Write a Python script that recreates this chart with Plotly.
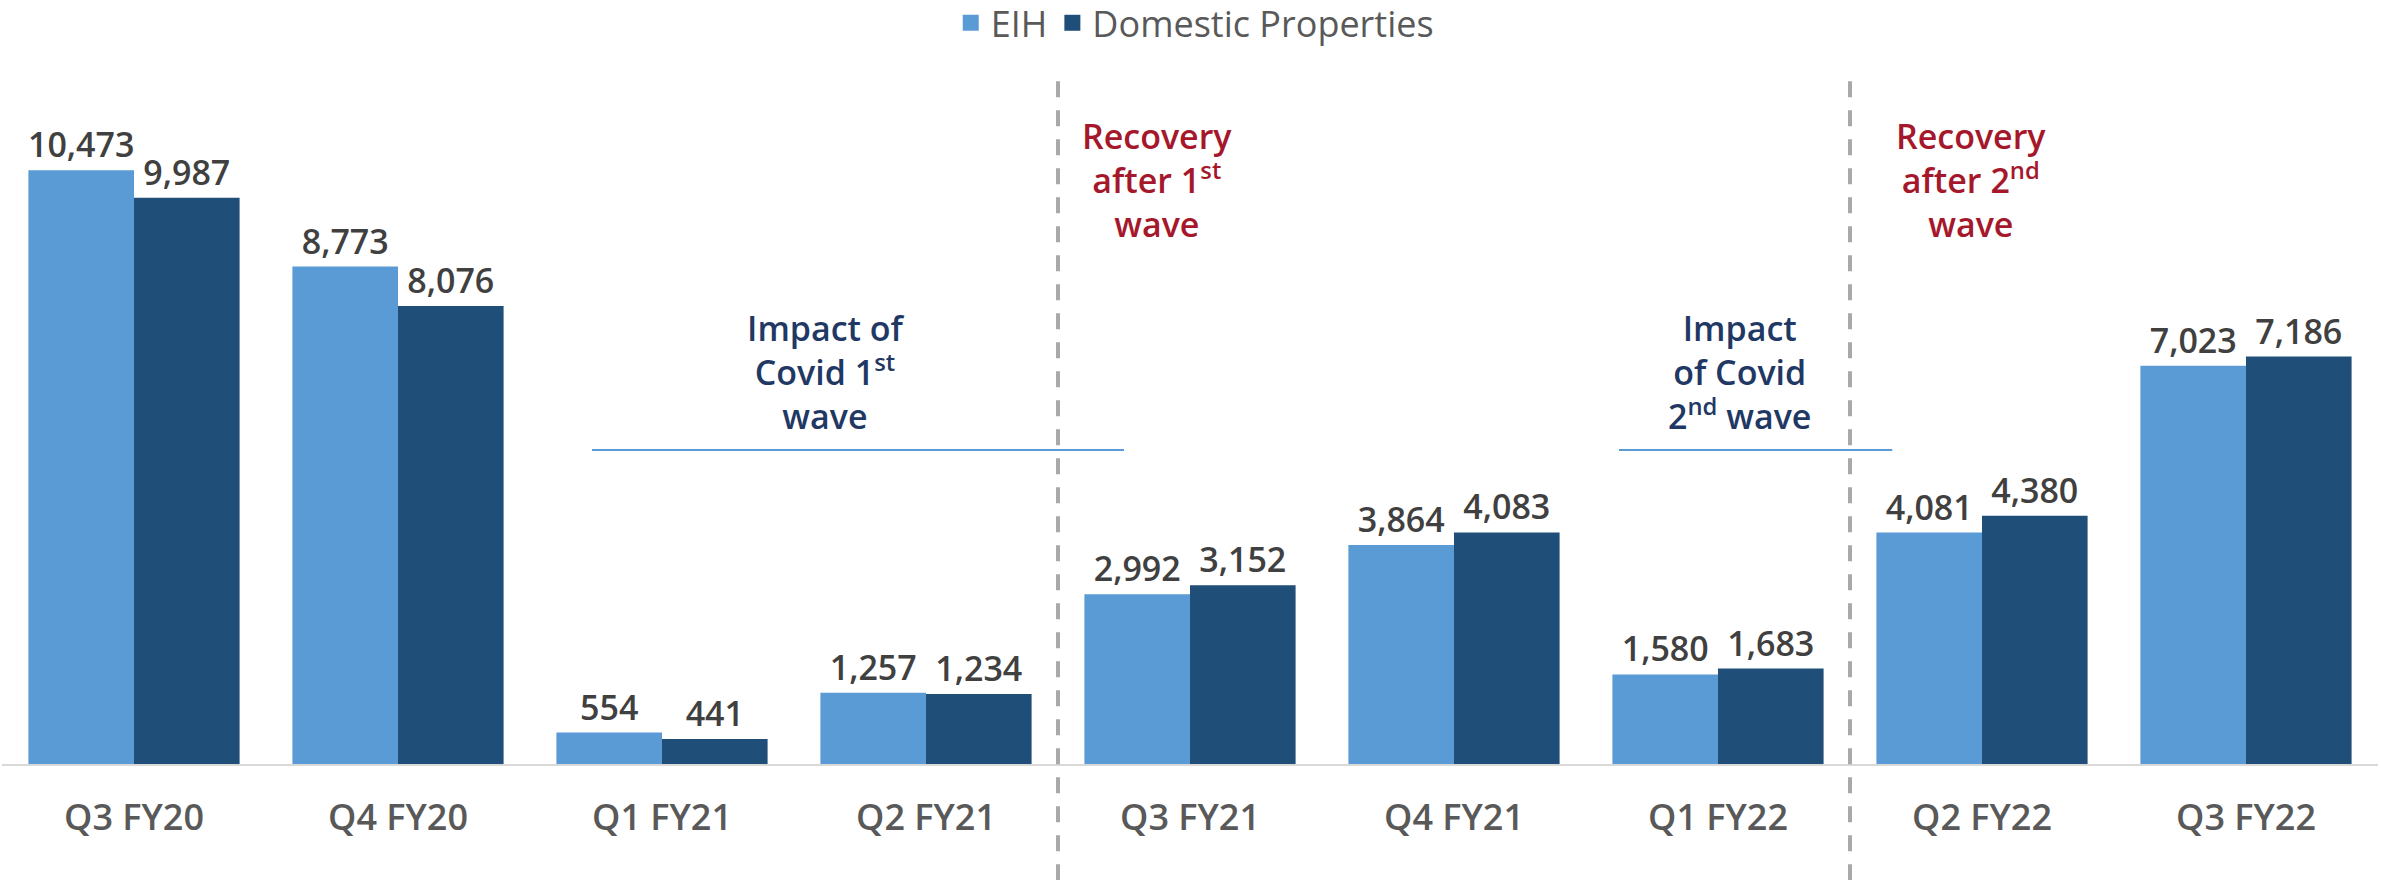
import plotly.graph_objects as go

categories = ["Q3 FY20", "Q4 FY20", "Q1 FY21", "Q2 FY21", "Q3 FY21",
              "Q4 FY21", "Q1 FY22", "Q2 FY22", "Q3 FY22"]
eih_values = [10473, 8773, 554, 1257, 2992, 3864, 1580, 4081, 7023]
domestic_values = [9987, 8076, 441, 1234, 3152, 4083, 1683, 4380, 7186]
series_names = ["EIH", "Domestic Properties"]
series_colors = ["#5B9BD5", "#1F4E79"]

FONT = "Open Sans"
LABEL_COLOR = "#404040"
NAVY = "#1F3864"
RED = "#A5182B"

fig = go.Figure()
for name, vals, color in zip(series_names, [eih_values, domestic_values], series_colors):
    fig.add_trace(go.Bar(
        name=name, x=categories, y=vals, marker=dict(color=color, line=dict(width=0)),
        text=[f"{v:,}" for v in vals], textposition="outside",
        textfont=dict(family=FONT, size=34, color=LABEL_COLOR, weight=600),
        constraintext="none", cliponaxis=False, hoverinfo="skip",
        showlegend=False,
    ))
# legend entries (larger square swatches)
for name, color in zip(series_names, series_colors):
    fig.add_trace(go.Scatter(
        name=name, x=[categories[0]], y=[None], mode="markers",
        marker=dict(symbol="square", size=16, color=color),
        showlegend=True, hoverinfo="skip",
    ))

# separators
for xpos in [3.5, 6.5]:
    fig.add_shape(type="line", xref="x", yref="paper", x0=xpos, x1=xpos,
                  y0=-0.165, y1=0.973,
                  line=dict(color="#A9A9A9", width=4, dash="16px,13px"))

# underline lines
for x0, x1 in [(1.735, 3.75), (5.625, 6.66)]:
    fig.add_shape(type="line", xref="x", yref="y", x0=x0, x1=x1, y0=5538, y1=5538,
                  line=dict(color="#5B9BD5", width=2))

annotations = [
    ("Impact of<br>Covid 1<sup>st</sup><br>wave", 2.62, 6914, NAVY),
    ("Impact<br>of Covid<br>2<sup>nd</sup> wave", 6.08, 6914, NAVY),
    ("Recovery<br>after 1<sup>st</sup><br>wave", 3.875, 10300, RED),
    ("Recovery<br>after 2<sup>nd</sup><br>wave", 6.96, 10300, RED),
]
for txt, x, y, col in annotations:
    fig.add_annotation(text=txt, x=x, y=y, xref="x", yref="y", showarrow=False,
                       xanchor="center", yanchor="middle", align="center",
                       font=dict(family=FONT, size=34, color=col, weight=600))

fig.update_layout(
    width=2381, height=880,
    margin=dict(l=2, r=3, t=60, b=116, autoexpand=False),
    paper_bgcolor="white", plot_bgcolor="white",
    barmode="group", bargap=0.2, bargroupgap=0,
    font=dict(family=FONT),
    showlegend=True,
    legend=dict(orientation="h", x=0.502, xanchor="center", y=0.974, yanchor="middle",
                yref="container", font=dict(family=FONT, size=36, color="#595959"),
                traceorder="normal", itemwidth=30),
    xaxis=dict(showline=True, linecolor="#D9D9D9", linewidth=2, ticks="",
               showgrid=False, zeroline=False, ticklabelstandoff=21, automargin=False,
               tickfont=dict(family=FONT, size=36, color="#595959", weight=600),
               range=[-0.5, 8.5]),
    yaxis=dict(visible=False, range=[0, 12416], showgrid=False, zeroline=False,
               automargin=False),
)

fig.write_html("out.html", config={"displayModeBar": False},
               post_script="document.body.style.margin='0';document.body.style.overflow='hidden';")
